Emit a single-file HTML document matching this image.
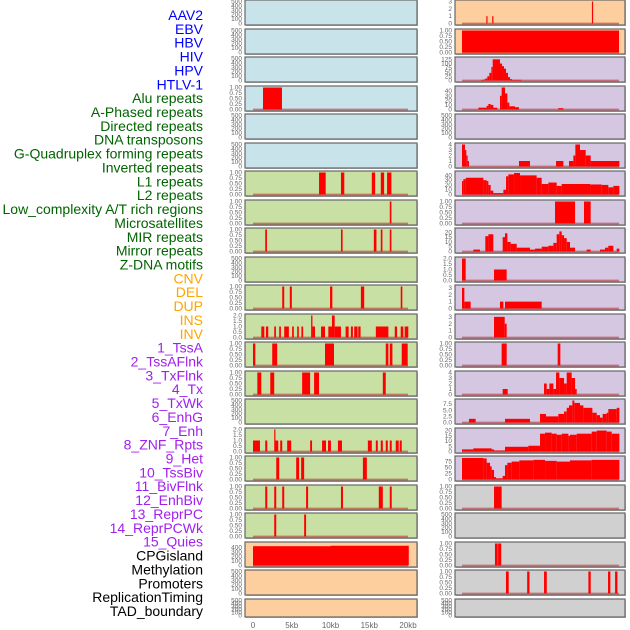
<!DOCTYPE html>
<html><head><meta charset="utf-8">
<style>
html,body{margin:0;padding:0;background:#fff;}
svg{display:block;font-family:"Liberation Sans",sans-serif;}
</style></head>
<body>
<svg id="chart" width="630" height="630" viewBox="0 0 630 630">
<g id="labels"></g>
<g id="panels"></g>
<g id="xaxis"></g>
</svg>
<script>
const trackLabels = ["AAV2","EBV","HBV","HIV","HPV","HTLV-1","Alu repeats","A-Phased repeats","Directed repeats","DNA transposons","G-Quadruplex forming repeats","Inverted repeats","L1 repeats","L2 repeats","Low_complexity A/T rich regions","Microsatellites","MIR repeats","Mirror repeats","Z-DNA motifs","CNV","DEL","DUP","INS","INV","1_TssA","2_TssAFlnk","3_TxFlnk","4_Tx","5_TxWk","6_EnhG","7_Enh","8_ZNF_Rpts","9_Het","10_TssBiv","11_BivFlnk","12_EnhBiv","13_ReprPC","14_ReprPCWk","15_Quies","CPGisland","Methylation","Promoters","ReplicationTiming","TAD_boundary"];
const labelColors = ["#0000ff","#0000ff","#0000ff","#0000ff","#0000ff","#0000ff","#006400","#006400","#006400","#006400","#006400","#006400","#006400","#006400","#006400","#006400","#006400","#006400","#006400","#ffa500","#ffa500","#ffa500","#ffa500","#ffa500","#a020f0","#a020f0","#a020f0","#a020f0","#a020f0","#a020f0","#a020f0","#a020f0","#a020f0","#a020f0","#a020f0","#a020f0","#a020f0","#a020f0","#a020f0","#000","#000","#000","#000","#000"];
const xTickValues = [0,5,10,15,20];
const xTickLabels = ["0","5kb","10kb","15kb","20kb"];

// tick sets
const ticksEmpty = [0,100,200,300,400,500];
const ticksUnit = [0,0.25,0.5,0.75,1.0];
const ticksTwo = [0,0.5,1.0,1.5,2.0];

// left column segments [startKb, endKb, value]
const L04 = [[1.29,3.74,1]];
const L07 = [[8.52,9.38,1],[11.35,11.78,1],[15.33,15.76,1],[16.49,16.92,1],[17.3,17.86,1]];
const L08 = [[17.65,17.86,1]];
const L09 = [[1.58,1.8,1],[11.35,11.56,1],[15.59,15.93,1],[16.49,16.7,1],[17.65,17.86,1]];
const L11 = [[3.77,4.03,1],[4.75,5.01,1],[9.94,10.24,1],[13.92,14.35,1],[19.06,19.27,1]];
const L12 = [[1.07,1.46,1],[1.67,1.97,1],[2.74,2.96,1],[3.38,3.6,1],[4.03,4.63,1],[5.05,5.27,1],[5.7,5.91,1],[6.25,6.47,1],[7.5,7.67,2],[7.67,8.0,1],[8.78,9.29,1],[9.72,10.19,1],[10.19,10.54,2],[10.54,11.35,1],[11.95,12.34,1],[12.63,12.89,1],[13.06,13.49,1],[13.58,13.88,1],[15.85,17.47,1],[18.29,18.59,1],[19.06,19.4,1],[19.57,20.04,1]];
const L13 = [[0,0.3,1],[2.48,3.12,1],[9.29,10.45,1],[17.13,17.47,1],[17.65,17.99,1],[19.19,19.96,1]];
const L14 = [[0.56,1.07,1],[2.23,2.74,1],[6.34,7.37,1],[7.88,8.52,1],[16.75,17.13,1]];
const L16 = [[0,0.9,1],[1.58,1.84,1],[2.74,2.87,2],[2.87,3.26,1],[3.51,3.77,1],[4.41,4.93,1],[7.37,7.62,1],[8.91,9.42,1],[9.68,10.06,1],[10.96,11.48,1],[14.82,15.33,1],[15.85,16.1,1],[16.49,16.75,1],[17.13,17.39,1],[17.65,17.9,1],[18.42,18.8,1],[18.93,19.19,1]];
const L17 = [[3.0,3.38,1],[5.57,5.95,1],[6.21,6.6,1],[14.18,14.69,1]];
const L18 = [[1.58,1.84,1],[2.74,3.0,1],[3.77,4.03,1],[6.85,7.11,1],[11.35,11.61,1],[16.23,16.75,1],[17.65,17.9,1]];
const L19 = [[2.74,3.0,1],[6.6,6.85,1]];
const L20 = [[0,10,430],[10,20.1,440]];

// right column segments
const R01 = [[3.1,3.25,1],[3.85,4.0,1],[16.55,16.7,3]];
const R02 = [[0,20,1]];
const R03 = [[2.42,2.72,3],[2.72,2.97,6],[2.97,3.23,12],[3.23,3.48,25],[3.48,3.74,45],[3.74,3.91,80],[3.91,4.84,125],[4.84,5.1,100],[5.1,5.35,85],[5.35,5.61,70],[5.61,5.86,45],[5.86,6.12,20],[6.12,6.37,8],[6.37,7.6,4]];
const R04 = [[2.08,3.14,4],[3.14,3.36,8],[3.36,3.65,12],[3.65,3.99,10],[3.99,4.5,4],[4.84,5.05,30],[5.05,5.48,48],[5.48,5.78,35],[5.78,6.03,15],[6.03,6.75,7],[6.75,7.26,5],[12.27,12.91,3]];
const R06 = [[0,0.38,4],[0.38,0.55,3],[0.55,0.72,2],[0.72,0.89,1],[7.26,8.66,1],[11.98,12.91,1],[13.63,14.19,1],[14.19,14.44,2],[14.44,15.03,4],[15.03,15.76,3],[15.76,16.39,2],[16.39,20.05,1]];
const R07 = [[0,0.17,28],[0.17,0.47,32],[0.47,2.72,35],[2.72,3.14,30],[3.14,3.36,28],[3.36,3.65,20],[3.65,3.99,8],[3.99,5.27,3],[5.27,5.61,10],[5.61,5.9,38],[5.9,6.63,42],[6.63,7.39,45],[7.39,9.51,40],[9.51,10.15,35],[10.15,11.0,22],[11.0,12.06,25],[12.06,12.7,18],[12.7,16.31,22],[16.31,17.8,21],[17.8,18.64,20],[18.64,19.28,15],[19.28,20.05,18]];
const R08 = [[11.85,14.4,1],[15.54,16.39,1]];
const R09 = [[1.44,2.29,2],[2.97,3.36,16],[3.36,3.99,18],[5.18,5.48,15],[5.48,5.78,19],[5.78,6.2,10],[6.2,6.97,8],[6.97,8.66,4],[8.66,9.3,2],[9.3,10.15,3],[10.15,11.0,5],[11.0,11.64,6],[11.64,12.06,9],[12.06,12.4,18],[12.4,12.7,21],[12.7,13.0,17],[13.0,13.34,14],[13.34,13.76,10],[13.76,14.4,4],[15.88,16.39,2],[17.58,18.22,2],[18.22,18.64,4],[18.64,19.28,6],[19.71,20.05,3]];
const R10 = [[0,0.47,2],[4.08,5.69,1]];
const R11 = [[0,0.3,3],[0.3,1.1,1],[4.84,5.27,1],[5.48,10.15,1]];
const R12 = [[4.08,5.44,3],[5.44,5.69,2]];
const R13 = [[5.05,5.69,1],[12.19,12.53,1]];
const R14 = [[5.18,5.82,1],[10.45,10.79,2],[10.79,11.13,1],[11.13,11.64,2],[11.64,11.98,1],[11.98,12.4,4],[12.4,13.0,3],[13.0,13.34,2],[13.34,13.97,4],[13.97,14.4,3],[14.4,14.61,1]];
const R15 = [[0.89,1.74,1.5],[5.48,8.66,1.5],[9.94,10.7,3.5],[10.7,12.27,2.5],[12.27,13.0,3.5],[13.0,13.34,4.5],[13.34,13.63,6],[13.63,14.06,7],[14.06,14.31,9],[14.31,15.03,8],[15.03,15.46,7],[15.46,16.61,6],[16.61,17.16,4],[17.16,17.58,3],[17.58,17.92,2],[17.92,18.43,3.5],[18.43,18.64,4],[18.64,19.71,5.5],[19.71,20.05,6]];
const R16 = [[0,1.44,2],[1.44,3.78,3],[3.78,4.08,2],[4.08,5.48,1],[5.48,8.45,4.5],[8.45,9.94,5.5],[9.94,10.58,17],[10.58,11.42,18],[11.42,12.06,17],[12.06,12.7,16],[12.7,13.55,17],[13.55,13.76,15],[13.76,14.61,16],[14.61,16.52,17],[16.52,17.16,19],[17.16,18.43,20],[18.43,19.07,19],[19.07,20.05,17]];
const R17 = [[0,2.72,90],[2.72,3.14,88],[3.14,3.57,70],[3.57,3.78,55],[3.78,4.08,40],[4.08,4.33,10],[4.33,5.18,5],[5.18,5.48,15],[5.48,5.78,60],[5.78,6.33,70],[6.33,7.3,75],[7.3,9.09,80],[9.09,10.58,82],[10.58,12.06,78],[12.06,13.76,75],[13.76,16.52,80],[16.52,20.05,82]];
const R18 = [[4.08,5.05,1]];
const R20 = [[4.2,4.55,1],[4.6,5.0,1]];
const R21 = [[5.6,5.95,1],[8.3,8.6,1],[10.45,10.8,1],[16.1,16.4,1],[18.6,18.9,1],[19.5,19.8,1]];

const leftCol = [
 [null,500,ticksEmpty],[null,500,ticksEmpty],[null,500,ticksEmpty],[L04,1,ticksUnit],[null,500,ticksEmpty],[null,500,ticksEmpty],
 [L07,1,ticksUnit],[L08,1,ticksUnit],[L09,1,ticksUnit],[null,500,ticksEmpty],[L11,1,ticksUnit],[L12,2,ticksTwo],[L13,1,ticksUnit],[L14,1,ticksUnit],[null,500,ticksEmpty],[L16,2,ticksTwo],[L17,1,ticksUnit],[L18,1,ticksUnit],[L19,1,ticksUnit],
 [L20,490,[0,100,200,300,400]],[null,500,ticksEmpty],[null,500,ticksEmpty]
];
const rightCol = [
 [R01,3,[0,1,2,3]],[R02,1,ticksUnit],[R03,130,[0,25,50,75,100,125]],[R04,48,[0,10,20,30,40]],[null,500,ticksEmpty],[R06,4,[0,1,2,3,4]],[R07,46,[0,10,20,30,40]],[R08,1,ticksUnit],[R09,23,[0,5,10,15,20]],[R10,2,[0,0.5,1.0,1.5,2.0]],[R11,3.2,[0,1,2,3]],[R12,3.2,[0,1,2,3]],[R13,1,ticksUnit],[R14,4,[0,1,2,3,4]],[R15,9,[0,2.5,5.0,7.5]],[R16,21,[0,5,10,15,20]],[R17,92,[0,25,50,75]],
 [R18,1,ticksUnit],[null,500,ticksEmpty],[R20,1,ticksUnit],[R21,1,ticksUnit],[null,500,ticksEmpty]
];
const leftBg = i => i<6 ? "#c8e3ea" : (i<19 ? "#c8e0a3" : "#fecf9e");
const rightBg = i => i<2 ? "#fecf9e" : (i<17 ? "#d5c6e2" : "#d0d0d0");

const NS = "http://www.w3.org/2000/svg";
function mk(tag, attrs, parent){ const e=document.createElementNS(NS,tag); for(const k in attrs) e.setAttribute(k,attrs[k]); parent.appendChild(e); return e; }

// labels
const lg = document.getElementById('labels');
trackLabels.forEach((t,i)=>{
  const e = mk('text',{x:203,y:20+i*13.86,'text-anchor':'end','font-size':'14',fill:labelColors[i]},lg);
  e.textContent = t;
  
  
});

const pg = document.getElementById('panels');
function fmt(v, ticks){
  const isUnit = ticks===ticksUnit;
  if(isUnit) return v.toFixed(2);
  if(ticks.some(t=>t%1!==0)) return v.toFixed(1);
  return String(v);
}
function drawCol(col, x0, w, xz, xs, bgf, side){
  col.forEach((p,i)=>{
    const segs=p[0], ymax=p[1], ticks=p[2];
    const top = Math.round(i*28.5);
    const h = i===21 ? 18 : 25;
    const g = mk('g',{},pg);
    
    
    mk('rect',{x:x0+1,y:top+1,width:w,height:h,fill:'#bbb'},g);
    mk('rect',{x:x0,y:top,width:w,height:h,fill:bgf(i),stroke:'#666','stroke-width':1.2},g);
    const y0 = top+h-1.5, yt = top+1.5;
    const ys = v => y0 - v/ymax*(y0-yt);
    const xm = kb => xz + kb*xs;
    ticks.forEach(t=>{
      const tt = mk('text',{x:x0-3,y:ys(t)+2,'text-anchor':'end','font-size':'6.5',fill:'#666'},g);
      tt.textContent = fmt(t,ticks);
      
      
    });
    if(segs){
      mk('line',{x1:xm(0),x2:xm(20),y1:y0,y2:y0,stroke:'#b22',"stroke-opacity":0.55,'stroke-width':1.8},g);
      segs.forEach(s=>{
        const r = mk('rect',{x:xm(s[0]),y:ys(s[2]),width:Math.max(1.2,xm(s[1])-xm(s[0])),height:y0-ys(s[2]),fill:'#ff0000'},g);
        
        
      });
    }
  });
}
drawCol(leftCol, 245, 172, 253, 7.75, leftBg, 'left');
drawCol(rightCol, 455, 170, 462, 7.85, rightBg, 'right');

const xg = document.getElementById('xaxis');
xTickValues.forEach((v,i)=>{
  const e = mk('text',{x:253+v*7.75,y:628,'text-anchor':'middle','font-size':'8',fill:'#666'},xg);
  e.textContent = xTickLabels[i];
  
  
});
</script>
</body></html>
